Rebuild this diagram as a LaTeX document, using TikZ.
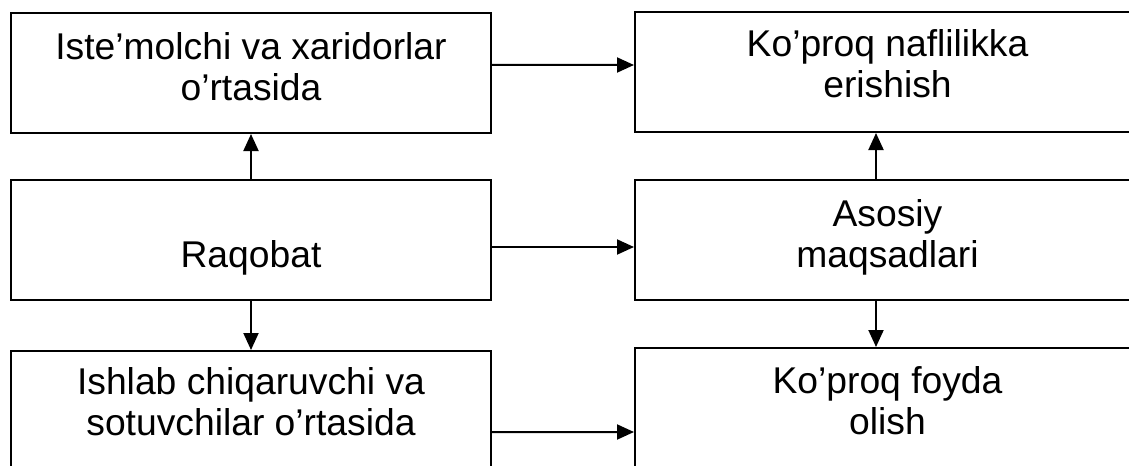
\documentclass[tikz,border=0pt]{standalone}
\usepackage{fontspec}
\setmainfont{Liberation Sans}
\usetikzlibrary{arrows.meta,positioning}
\begin{document}
\begin{tikzpicture}[x=0.25mm,y=-0.25mm,line cap=butt,line join=miter,
  font=\fontsize{26.5}{29.5}\selectfont,
  box/.style={draw=black,line width=0.5mm,fill=white,inner sep=0pt,minimum height=30mm},
  lbox/.style={box,minimum width=120mm},
  rbox/.style={box,minimum width=126.25mm},
  txt/.style={align=center,inner sep=0pt,anchor=north},
  arr/.style={-{Triangle[length=4.25mm,width=3.75mm]},line width=0.5mm}]
\path[use as bounding box] (0,0) rectangle (1129,465);
\clip (0,0) rectangle (1129,465);
\fill[white] (0,0) rectangle (1129,465);
\node[lbox] (buyers) at (251,73) {};
\node[lbox] (comp) at (251,240) {};
\node[lbox] (sellers) at (251,411) {};
\node[rbox] (utility) at (887.5,72) {};
\node[rbox] (goals) at (887.5,240) {};
\node[rbox] (profit) at (887.5,408) {};
\node[txt] (buyerstxt) at ([yshift=-5mm]buyers.north) {Iste’molchi va xaridorlar\\o’rtasida};
\node[txt] (comptxt) at ([yshift=-15.25mm]comp.north) {Raqobat};
\node[txt] (sellerstxt) at ([yshift=-4.25mm]sellers.north) {Ishlab chiqaruvchi va\\sotuvchilar o’rtasida};
\node[txt] (utilitytxt) at ([yshift=-4.5mm]utility.north) {Ko’proq naflilikka\\erishish};
\node[txt] (goalstxt) at ([yshift=-5mm]goals.north) {Asosiy\\maqsadlari};
\node[txt] (profittxt) at ([yshift=-4.75mm]profit.north) {Ko’proq foyda\\olish};
\draw[arr] ([yshift=2mm]buyers.east)--([yshift=1.75mm]utility.west);
\draw[arr] ([yshift=-1.75mm]comp.east)--([yshift=-1.75mm]goals.west);
\draw[arr] ([yshift=-5.25mm]sellers.east)--([yshift=-6mm]profit.west);
\draw[arr] (comp.north)--(buyers.south);
\draw[arr] (comp.south)--(sellers.north);
\draw[arr] ([xshift=-2.875mm]goals.north)--([xshift=-2.875mm]utility.south);
\draw[arr] ([xshift=-2.875mm]goals.south)--([xshift=-2.875mm]profit.north);
\end{tikzpicture}
\end{document}
